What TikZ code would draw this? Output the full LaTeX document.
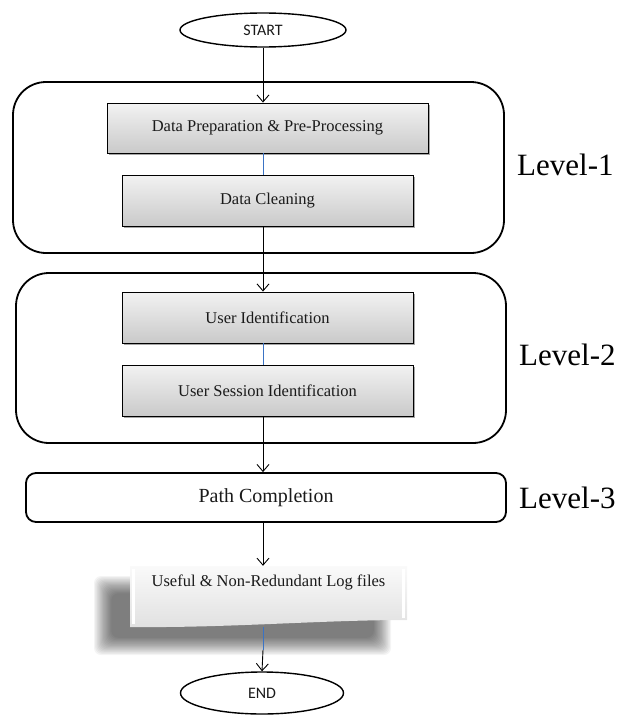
\documentclass[tikz,border=0pt]{standalone}
\usepackage{fontspec}
\setmainfont{Liberation Serif}
\newfontfamily\termfont{Carlito}
\usetikzlibrary{arrows.meta,shadows,shapes.geometric,calc}
\definecolor{linkblue}{HTML}{3A73C4}
\definecolor{inkgray}{HTML}{1A1A1A}

\tikzset{
  terminal/.style={ellipse, draw=black, line width=1.4pt, fill=white, inner sep=0pt,
    font=\termfont\fontsize{16}{16}\selectfont, text=inkgray},
  stagebox/.style={rectangle, draw=black, line width=0.9pt, top color=gray!10,
    bottom color=gray!42, inner sep=0pt, text=inkgray,
    font=\fontsize{16.5}{18}\selectfont,
    drop shadow={shadow xshift=1.8pt, shadow yshift=-1.8pt, opacity=0.35, fill=black}},
  groupbox/.style={rectangle, draw=black, line width=1.8pt, fill=white, inner sep=0pt},
  leveltag/.style={anchor=base west, inner sep=0pt, font=\fontsize{31}{31}\selectfont},
  flow/.style={draw=black, line width=0.9pt, -{Straight Barb[length=7pt,width=12pt,line width=0.9pt]}},
  link/.style={draw=linkblue, line width=0.8pt},
  boxtext/.style={inner sep=0pt, text=inkgray, font=\fontsize{16.5}{18}\selectfont}
}

\begin{document}
\begin{tikzpicture}[x=1pt,y=-1pt]
\useasboundingbox (0,0) rectangle (624,717);

% grouping frames
\node[groupbox, rounded corners=33pt, minimum width=491pt, minimum height=171pt] (grp1) at (258.5,167.5) {};
\node[groupbox, rounded corners=33pt, minimum width=490pt, minimum height=170pt] (grp2) at (261,358) {};

% terminals
\node[terminal, minimum width=166pt, minimum height=34pt] (start) at (263,30) {START};
\node[terminal, minimum width=163pt, minimum height=42pt] (end) at (262,693) {END};

% processing stages
\node[stagebox, minimum width=321pt, minimum height=50pt] (prep) at (267.5,128) {Data Preparation \& Pre-Processing};
\node[stagebox, minimum width=291pt, minimum height=51pt] (clean) at (267.5,200.5) {Data Cleaning};
\node[stagebox, minimum width=291pt, minimum height=51pt] (uid) at (267.5,317.5) {User Identification};
\node[stagebox, minimum width=291pt, minimum height=51pt] (sid) at (267.5,390.5) {User Session Identification};

% path completion
\node[groupbox, rounded corners=10pt, minimum width=480pt, minimum height=49pt,
      font=\fontsize{20}{22}\selectfont, text=inkgray] (path) at (266,497.5) {Path Completion};

% soft shadow behind the output panel: stacked translucent layers
\foreach \k in {0,...,15}{
  \pgfmathsetmacro{\e}{10-1.15*\k}
  \fill[black, opacity=0.042, rounded corners=7pt]
    (104-\e,586-\e) rectangle (381+\e,645+\e);
}
% output panel
\path[top color=gray!4, bottom color=gray!24]
  (130,566) -- (407,566) -- (407,620)
  .. controls (320,620) and (230,628) .. (130,627) -- cycle;
\draw[white, line width=2.2pt] (133.5,569) -- (133.5,624);
\draw[white, line width=2.2pt] (403.5,569) -- (403.5,618);
\node[inner sep=0pt, minimum width=277pt, minimum height=61pt] (output) at (268.5,596.5) {};
\node[boxtext] (outtext) at ($(output.north)+(0,17)$) {Useful \& Non-Redundant Log files};

% level tags
\node[leveltag] (lv1) at (517,175) {Level-1};
\node[leveltag] (lv2) at (519,365) {Level-2};
\node[leveltag] (lv3) at (519,508) {Level-3};

% connectors
\coordinate (shadowend) at (start |- 0,650);
\draw[flow] (start.south) -- (start.south |- prep.north);
\draw[link] (start |- prep.south) -- (start |- clean.north);
\draw[flow] (start |- clean.south) -- (start |- uid.north);
\draw[link] (start |- uid.south) -- (start |- sid.north);
\draw[flow] (start |- sid.south) -- (start |- path.north);
\draw[flow] (start |- path.south) -- (start |- output.north);
\draw[link] (start |- output.south) -- (shadowend);
\draw[flow] (shadowend) -- (end.north);
\end{tikzpicture}
\end{document}
